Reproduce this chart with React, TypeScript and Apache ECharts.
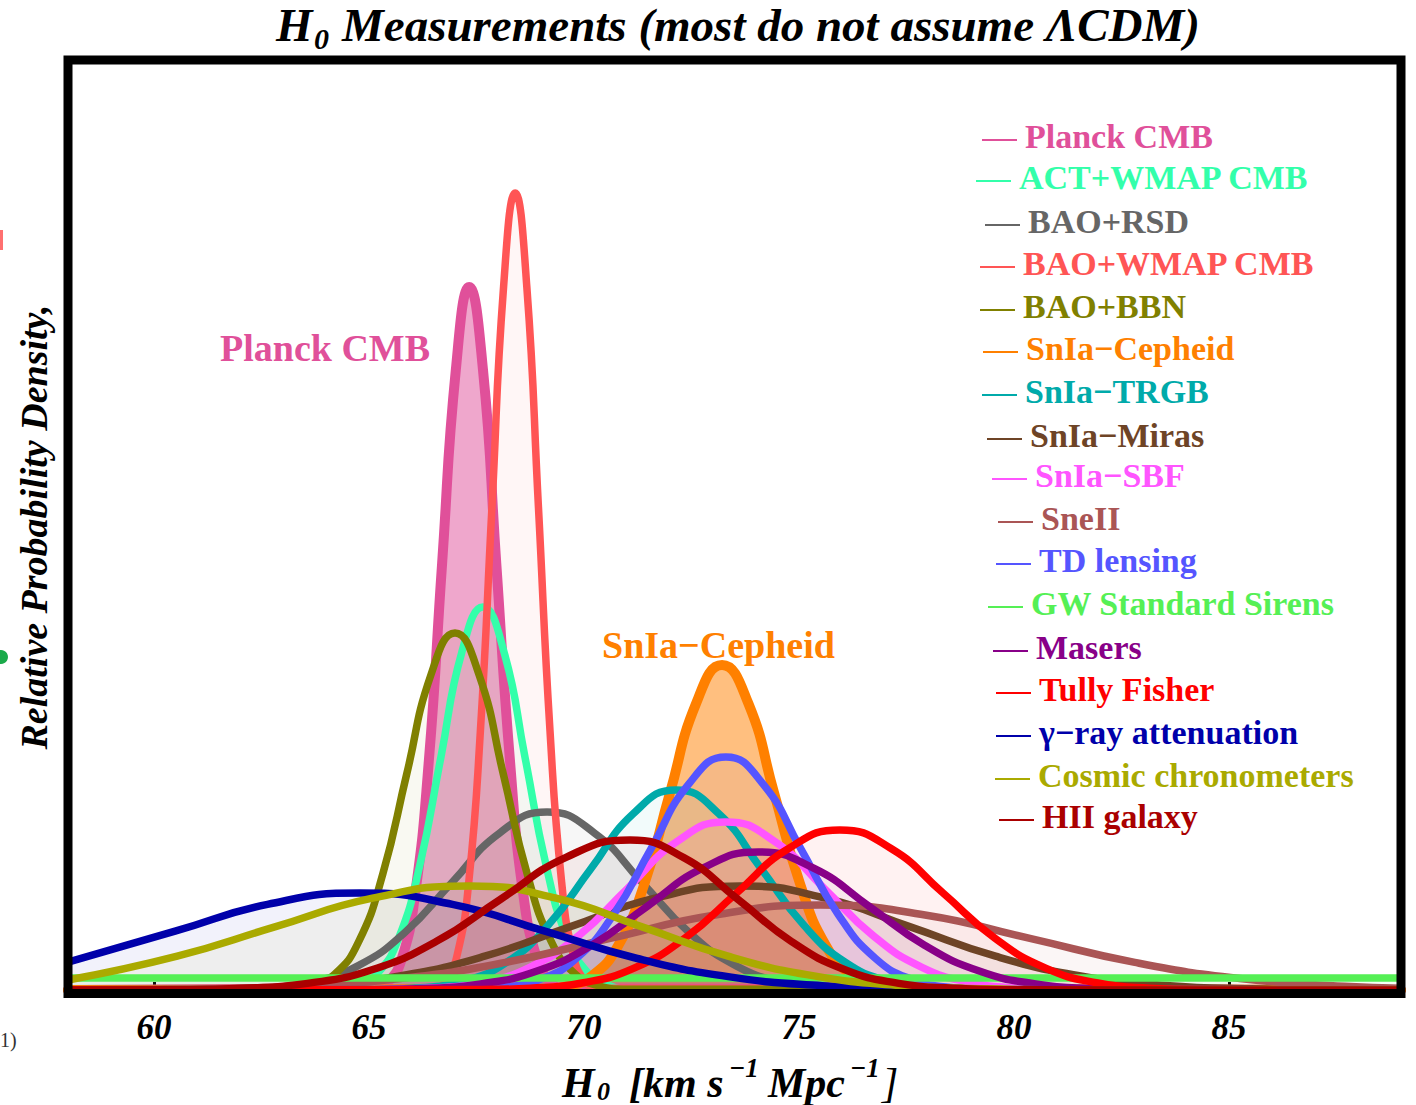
import React, { useEffect, useRef } from "react";
import * as echarts from "echarts";

// ---------- data ----------
const seriesNames = [
  "Planck CMB",
  "ACT+WMAP CMB",
  "BAO+RSD",
  "BAO+WMAP CMB",
  "BAO+BBN",
  "SnIa\u2212Cepheid",
  "SnIa\u2212TRGB",
  "SnIa\u2212Miras",
  "SnIa\u2212SBF",
  "SneII",
  "TD lensing",
  "GW Standard Sirens",
  "Masers",
  "Tully Fisher",
  "\u03b3\u2212ray attenuation",
  "Cosmic chronometers",
  "HII galaxy",
];

const seriesColors = [
  "#E0509A",
  "#33FFAA",
  "#666666",
  "#FF5555",
  "#808000",
  "#FF8000",
  "#00AAAA",
  "#6E4426",
  "#FF55FF",
  "#AA5555",
  "#5555FF",
  "#55F055",
  "#880088",
  "#FF0000",
  "#0000AA",
  "#AAAA00",
  "#AA0000",
];

const planckCMB = [[58,0],[65.13,0.15],[65.44,0.78],[65.76,3.09],[66.07,9.51],[66.39,22.83],[66.70,42.64],[67.02,62.04],[67.33,70.3],[67.65,62.04],[67.96,42.64],[68.28,22.83],[68.59,9.51],[68.91,3.09],[69.22,0.78],[69.54,0.15],[89,0]];
const actWmapCMB = [[58,0],[64.22,0.08],[64.71,0.43],[65.20,1.68],[65.69,5.18],[66.18,12.44],[66.67,23.23],[67.16,33.8],[67.65,38.3],[68.14,33.8],[68.63,23.23],[69.12,12.44],[69.61,5.18],[70.10,1.68],[70.59,0.43],[71.08,0.08],[89,0]];
const baoRsd = [[58,0],[61.44,0.04],[62.54,0.2],[63.64,0.78],[64.74,2.41],[65.84,5.78],[66.94,10.8],[68.04,15.71],[69.14,17.8],[70.24,15.71],[71.34,10.8],[72.44,5.78],[73.54,2.41],[74.64,0.78],[75.74,0.2],[76.84,0.04],[89,0]];
const baoWmapCMB = [[58,0],[66.51,0.18],[66.78,0.88],[67.05,3.5],[67.32,10.78],[67.59,25.88],[67.86,48.34],[68.13,70.34],[68.40,79.7],[68.67,70.34],[68.94,48.34],[69.21,25.88],[69.48,10.78],[69.75,3.5],[70.02,0.88],[70.29,0.18],[89,0]];
const baoBbn = [[58,0],[63.08,0.08],[63.64,0.4],[64.20,1.57],[64.76,4.83],[65.32,11.59],[65.88,21.65],[66.44,31.51],[67.0,35.7],[67.56,31.51],[68.12,21.65],[68.68,11.59],[69.24,4.83],[69.80,1.57],[70.36,0.4],[70.92,0.08],[89,0]];
const snCepheid = [[58,0],[68.98,0.07],[69.58,0.36],[70.19,1.43],[70.79,4.4],[71.40,10.55],[72.0,19.71],[72.61,28.68],[73.21,32.5],[73.82,28.68],[74.42,19.71],[75.03,10.55],[75.63,4.4],[76.24,1.43],[76.84,0.36],[77.45,0.07],[89,0]];
const snTrgb = [[58,0],[65.21,0.04],[66.20,0.22],[67.19,0.88],[68.18,2.71],[69.17,6.49],[70.16,12.13],[71.15,17.65],[72.14,20],[73.13,17.65],[74.12,12.13],[75.11,6.49],[76.10,2.71],[77.09,0.88],[78.08,0.22],[79.07,0.04],[89,0]];
const snMiras = [[58,0.01],[59.77,0.02],[61.75,0.12],[63.73,0.46],[65.71,1.41],[67.69,3.38],[69.67,6.31],[71.65,9.18],[73.63,10.4],[75.61,9.18],[77.59,6.31],[79.57,3.38],[81.55,1.41],[83.53,0.46],[85.51,0.12],[87.49,0.02],[89,0.01]];
const snSbf = [[58,0],[65.32,0.04],[66.46,0.19],[67.60,0.74],[68.74,2.27],[69.88,5.45],[71.02,10.19],[72.16,14.83],[73.30,16.8],[74.44,14.83],[75.58,10.19],[76.72,5.45],[77.86,2.27],[79.0,0.74],[80.14,0.19],[81.28,0.04],[89,0]];
const sneII = [[58,0.02],[60.85,0.09],[63.29,0.37],[65.73,1.15],[68.17,2.76],[70.61,5.16],[73.05,7.5],[75.49,8.5],[77.93,7.5],[80.37,5.16],[82.81,2.76],[85.25,1.15],[87.69,0.37],[89,0.18]];
const tdLensing = [[58,0],[67.21,0.05],[68.08,0.26],[68.95,1.02],[69.82,3.15],[70.69,7.57],[71.56,14.13],[72.43,20.56],[73.30,23.3],[74.17,20.56],[75.04,14.13],[75.91,7.57],[76.78,3.15],[77.65,1.02],[78.52,0.26],[79.39,0.05],[89,0]];
const gwSirens = [[58,1.2],[62,1.2],[66,1.2],[70,1.2],[74,1.2],[78,1.2],[82,1.2],[86,1.2],[89,1.2]];
const masers = [[58,0],[65.02,0.03],[66.31,0.15],[67.60,0.61],[68.89,1.87],[70.18,4.48],[71.47,8.37],[72.76,12.18],[74.05,13.8],[75.34,12.18],[76.63,8.37],[77.92,4.48],[79.21,1.87],[80.50,0.61],[81.79,0.15],[83.08,0.03],[89,0]];
const tullyFisher = [[58,0],[67.55,0.04],[68.75,0.18],[69.95,0.7],[71.15,2.16],[72.35,5.2],[73.55,9.7],[74.75,14.12],[75.95,16],[77.15,14.12],[78.35,9.7],[79.55,5.2],[80.75,2.16],[81.95,0.7],[83.15,0.18],[84.35,0.04],[89,0]];
const gammaRay = [[58,2.79],[60.49,5.88],[62.64,8.56],[64.79,9.7],[66.94,8.56],[69.09,5.88],[71.24,3.15],[73.39,1.31],[75.54,0.43],[77.69,0.11],[79.84,0.02],[89,0]];
const cosmicChrono = [[58,1.0],[60.54,3.38],[62.81,6.31],[65.08,9.18],[67.35,10.4],[69.35,9.18],[71.35,6.31],[73.35,3.38],[75.35,1.41],[77.35,0.46],[79.35,0.12],[81.35,0.02],[89,0]];
const hiiGalaxy = [[58,0],[60.57,0.03],[62.07,0.17],[63.57,0.66],[65.07,2.03],[66.57,4.87],[68.07,9.1],[69.57,13.24],[71.07,15],[72.32,13.24],[73.57,9.1],[74.82,4.87],[76.07,2.03],[77.32,0.66],[78.57,0.17],[79.82,0.03],[89,0]];

const seriesData = [
  planckCMB, actWmapCMB, baoRsd, baoWmapCMB, baoBbn, snCepheid, snTrgb, snMiras,
  snSbf, sneII, tdLensing, gwSirens, masers, tullyFisher, gammaRay, cosmicChrono, hiiGalaxy,
];

const xTickValues = [60, 65, 70, 75, 80, 85];
const xMinorTickValues = [59, 61, 62, 63, 64, 66, 67, 68, 69, 71, 72, 73, 74, 76, 77, 78, 79, 81, 82, 83, 84, 86, 87, 88];

const titleText = "Measurements (most do not assume \u039bCDM)";
const yAxisTitle = "Relative Probability Density,";

// ---------- layout ----------
const FONT = '"Liberation Serif", "Times New Roman", serif';
const legendDashX = [982, 976, 985, 980, 980, 983, 982, 987, 992, 998, 996, 988, 993, 996, 996, 995, 999];
const legendRowY = [136, 177, 221, 263, 306, 348, 391, 435, 475, 518, 560, 603, 647, 689, 732, 775, 816];

function txt(text: string, x: number, y: number, size: number, color: string, opts: any = {}) {
  return {
    type: "text",
    x,
    y,
    z: 120,
    silent: true,
    rotation: opts.rotation || 0,
    style: {
      text,
      fill: color,
      fontSize: size,
      lineHeight: opts.lineHeight || Math.round(size * 1.1),
      fontFamily: FONT,
      fontWeight: opts.weight || "bold",
      fontStyle: opts.italic ? "italic" : "normal",
      align: opts.align || "left",
      verticalAlign: "middle",
    },
  };
}

export default function App() {
  const ref = useRef<HTMLDivElement>(null);

  useEffect(() => {
    const chart = echarts.init(ref.current!, null, { renderer: "svg" });

    const series = seriesData.map((d, i) => {
      const strong = i === 0 || i === 5;
      return {
        type: "line",
        name: seriesNames[i],
        data: d,
        xAxisIndex: 0,
        yAxisIndex: 0,
        smooth: 0.5,
        showSymbol: false,
        symbol: "none",
        silent: true,
        lineStyle: { color: seriesColors[i], width: strong ? 10 : 7.5, cap: "round", join: "round" },
        areaStyle: { color: seriesColors[i], opacity: strong ? 0.5 : 0.05 },
        emphasis: { disabled: true },
      };
    });

    const legendEls: any[] = [];
    seriesNames.forEach((name, i) => {
      const x = legendDashX[i];
      const y = legendRowY[i];
      legendEls.push({
        type: "line",
        z: 120,
        silent: true,
        shape: { x1: x, y1: y + 4, x2: x + 35, y2: y + 4 },
        style: { stroke: seriesColors[i], lineWidth: 2 },
      });
      legendEls.push(txt(name, x + 43, y, 34, seriesColors[i]));
    });

    const option: any = {
      animation: false,
      backgroundColor: "#ffffff",
      grid: { left: 68, right: 15, top: 60, bottom: 115, containLabel: false },
      xAxis: [
        {
          type: "value",
          min: 58,
          max: 89,
          position: "bottom",
          axisLine: { show: false },
          splitLine: { show: false },
          axisTick: { show: true, inside: true, length: 8, customValues: xTickValues, lineStyle: { color: "#000", width: 3 } },
          axisLabel: {
            customValues: xTickValues,
            fontFamily: FONT,
            fontStyle: "italic",
            fontWeight: "bold",
            fontSize: 35,
            color: "#000",
            margin: 20,
          },
        },
        {
          type: "value",
          min: 58,
          max: 89,
          position: "bottom",
          axisLine: { show: false },
          splitLine: { show: false },
          axisTick: { show: true, inside: true, length: 4, customValues: xMinorTickValues, lineStyle: { color: "#000", width: 2 } },
          axisLabel: { show: false },
        },
      ],
      yAxis: { type: "value", min: 0, max: 93, show: false },
      series,
      graphic: {
        elements: [
          // frame
          {
            type: "rect",
            z: 100,
            silent: true,
            shape: { x: 68, y: 60, width: 1333, height: 933.5 },
            style: { fill: "none", stroke: "#000", lineWidth: 9 },
          },
          // title
          txt("H", 276, 25, 47, "#000", { italic: true, lineHeight: 40 }),
          txt("0", 314, 38, 30, "#000", { italic: true, lineHeight: 24 }),
          txt(titleText, 342, 25, 47, "#000", { italic: true, lineHeight: 40 }),
          // x axis title
          txt("H", 562, 1083, 42, "#000", { italic: true }),
          txt("0", 597, 1091, 26, "#000", { italic: true, lineHeight: 16 }),
          txt("[km s", 629, 1083, 42, "#000", { italic: true }),
          txt("\u22121", 729, 1068, 27, "#000", { italic: true }),
          txt("Mpc", 768, 1083, 42, "#000", { italic: true }),
          txt("\u22121", 850, 1068, 27, "#000", { italic: true }),
          txt("]", 882, 1083, 42, "#000", { italic: true, weight: "normal" }),
          // y axis title
          txt(yAxisTitle, 34, 527, 38, "#000", { italic: true, align: "center", rotation: Math.PI / 2 }),
          // in-plot labels
          txt("Planck CMB", 220, 348, 38, seriesColors[0]),
          txt("SnIa\u2212Cepheid", 602, 645, 38, seriesColors[5]),
          // legend
          ...legendEls,
          // edge artifacts of the source crop
          { type: "rect", z: 120, silent: true, shape: { x: 0, y: 230, width: 3, height: 20 }, style: { fill: "#ff7070" } },
          { type: "circle", z: 120, silent: true, shape: { cx: 1, cy: 657, r: 7 }, style: { fill: "#1aaa4a" } },
          txt("1)", 0, 1040, 20, "#333", { weight: "normal" }),
        ],
      },
    };

    chart.setOption(option);
    return () => chart.dispose();
  }, []);

  return (
    <div
      ref={ref}
      style={{ position: "fixed", left: 0, top: 0, width: 1416, height: 1105, background: "#ffffff" }}
    />
  );
}
